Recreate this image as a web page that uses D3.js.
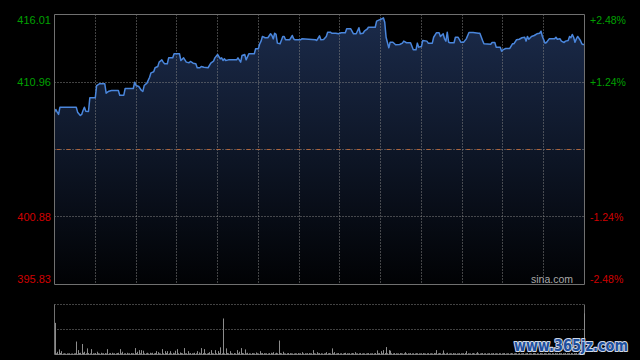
<!DOCTYPE html>
<html><head><meta charset="utf-8">
<script src="https://cdn.jsdelivr.net/npm/d3@7"></script>
<style>html,body{margin:0;padding:0;background:#000;}svg{display:block;}</style>
</head><body>
<svg id="c" width="640" height="360"></svg>
<script>
// ---- data ----
const priceMinutes = [
  0,1,2,3,4,16,17,19,20,21,22,23,25,26,30,31,33,37,38,40,
  42,47,48,51,52,58,59,60,62,64,65,66,68,70,71,73,74,76,77,79,
  80,81,83,84,87,88,92,93,95,97,99,100,102,104,105,107,108,110,113,115,
  117,118,120,122,123,124,125,126,128,134,135,137,138,140,141,143,147,148,150,151,
  152,153,155,157,159,160,161,162,163,164,166,168,169,170,173,175,176,177,181,182,
  187,192,193,195,196,198,200,201,203,204,207,209,211,214,215,218,220,222,224,225,
  227,228,230,231,234,236,237,239,241,242,243,244,246,247,249,251,254,256,257,259,
  262,264,266,267,268,270,271,274,275,278,279,281,283,284,286,287,288,289,290,291,
  294,295,297,299,301,303,305,308,312,313,315,316,321,322,324,325,328,329,330,332,
  335,337,338,340,342,344,346,347,348,349,351,353,355,357,358,359,361,362,364,368,
  369,370,372,373,375,376,378,379,380,381,382,383,384,385,387,388,389,390
];
const priceValues = [
  408.71,408.91,408.71,408.54,409.08,409.08,408.71,408.46,408.54,408.84,409.08,408.78,408.76,409.78,409.78,410.70,410.83,410.83,410.13,410.28,
  410.33,410.33,409.98,409.98,410.48,410.48,410.95,410.70,410.63,410.33,410.26,410.70,410.88,411.32,411.65,411.73,412.03,412.12,412.45,412.62,
  412.45,412.33,412.33,412.77,412.77,413.07,413.07,412.57,412.77,412.45,412.40,412.50,412.37,412.33,412.03,412.03,412.12,412.07,412.03,412.37,
  412.52,412.77,413.02,412.70,412.77,412.57,412.70,412.57,412.62,412.62,412.77,412.45,412.95,413.02,412.62,413.07,413.07,413.45,413.45,413.82,
  414.02,414.37,414.27,414.27,414.57,414.44,414.19,414.61,414.52,413.87,413.82,414.37,414.37,414.12,414.12,414.44,414.19,414.12,414.12,414.19,
  414.16,414.12,414.07,414.42,414.12,414.14,414.37,414.69,414.69,414.61,414.61,414.57,414.64,414.64,414.94,414.94,414.57,414.57,415.02,414.57,
  414.61,414.76,414.91,415.06,415.06,415.06,415.51,415.61,415.69,415.76,415.43,414.31,413.52,413.94,413.94,413.75,413.77,413.87,414.02,413.90,
  413.90,413.37,413.37,413.87,413.57,413.62,414.07,414.02,413.87,413.87,414.31,414.64,414.64,414.37,414.57,414.19,414.02,414.69,413.94,413.90,
  413.90,414.31,414.31,413.94,413.94,414.19,414.67,414.67,414.61,414.61,414.07,413.82,413.79,413.92,413.92,413.57,413.57,413.27,413.37,413.47,
  413.47,413.82,413.82,414.12,414.16,414.27,414.31,414.02,414.37,414.16,414.37,414.44,414.57,414.61,414.76,414.37,413.87,413.92,414.19,414.19,
  414.31,414.16,414.19,414.02,413.92,414.02,414.07,414.37,414.27,414.52,414.31,413.94,414.19,414.37,414.07,413.82,413.77,413.77
];
// per-minute volume (arbitrary units), minute 0..390
const volumes = [
  310,12,27,50,15,33,10,12,9,11,
  10,12,9,10,11,12,127,43,14,17,
  103,17,27,12,60,14,11,53,12,10,
  14,27,12,10,17,11,12,14,10,53,
  12,14,17,10,12,11,14,17,53,12,
  27,11,12,17,10,12,14,11,12,63,
  14,27,43,12,43,37,11,12,17,10,
  17,12,17,11,14,33,23,12,10,53,
  12,33,14,33,12,33,11,17,12,37,
  53,12,20,14,12,63,11,12,33,10,
  14,12,11,17,12,33,20,11,63,14,
  53,12,10,14,23,43,12,11,43,12,
  33,14,70,12,353,11,60,14,12,33,
  12,10,14,11,43,12,27,63,14,12,
  50,11,17,12,10,14,12,11,20,12,
  10,33,12,14,13,11,12,10,14,17,
  12,23,11,17,12,137,14,12,27,11,
  10,12,14,13,11,10,10,12,11,14,
  10,12,23,11,12,10,13,14,11,12,
  43,12,10,23,11,14,12,10,11,12,
  23,12,14,11,60,12,23,10,12,14,
  11,12,10,14,17,12,10,13,11,14,
  12,23,10,11,12,14,10,12,11,10,
  12,14,11,10,12,11,14,40,12,14,
  33,12,43,14,73,12,43,37,12,11,
  14,12,10,11,14,12,10,12,23,11,
  12,10,14,11,12,10,13,12,11,10,
  12,14,11,10,12,13,11,12,10,14,
  12,43,11,14,12,10,40,12,11,17,
  10,12,11,14,10,12,11,10,13,12,
  11,12,14,33,12,10,11,12,14,10,
  12,23,11,10,12,14,11,12,10,11,
  13,12,10,14,11,12,10,13,12,11,
  12,14,10,11,12,10,14,12,11,13,
  12,10,14,11,12,13,10,12,14,11,
  12,10,13,14,11,12,10,14,12,11,
  13,12,10,14,12,11,13,12,14,10,
  12,14,11,13,12,10,14,12,11,13,
  14,12,13,11,14,12,15,13,14,16,
  403
];
const prevClose = 405.92;
const priceTicks = [395.83, 400.88, 410.96, 416.01];
const priceTickLabels = ["395.83", "400.88", "410.96", "416.01"];
const pctTickLabels = ["-2.48%", "-1.24%", "+1.24%", "+2.48%"];
const gridMinutes = [30,60,90,120,150,180,210,240,270,300,330,360];
const sourceLabel = "sina.com";
const watermarkText = "www.365jz.com";

// ---- layout ----
const L = 54.5, R = 584.5, T = 14.5, B = 284.5;
const VT = 304.5, VB = 354.5;
const FONT = "'Liberation Sans', Arial, sans-serif";

const svg = d3.select("#c");
svg.append("rect").attr("width", 640).attr("height", 360).attr("fill", "#000");

const x = d3.scaleLinear().domain([0, 390]).range([L, R]);
const xv = d3.scaleLinear().domain([0, 390]).range([55, 584.9]);
const y = d3.scaleLinear().domain([395.83, 416.01]).range([B, T]);
const yv = d3.scaleLinear().domain([0, 490]).range([VB, VT]);

const pts = priceMinutes.map((m, i) => ({m, p: priceValues[i]}));

// gradient
const defs = svg.append("defs");
const grad = defs.append("linearGradient").attr("id", "fillg")
  .attr("gradientUnits", "userSpaceOnUse").attr("x1", 0).attr("x2", 0).attr("y1", T).attr("y2", B);
grad.append("stop").attr("offset", 0).attr("stop-color", "#1b2b4b");
grad.append("stop").attr("offset", 1).attr("stop-color", "#010204");

// area
svg.append("path").datum(pts)
  .attr("d", d3.area().x(d => x(d.m)).y0(B).y1(d => y(d.p)))
  .attr("fill", "url(#fillg)");

const px = v => Math.round(v - 0.5) + 0.5;

// grid
const grid = svg.append("g").attr("stroke", "#858585").attr("stroke-width", 1).attr("stroke-dasharray", "1,2").attr("fill", "none");
grid.selectAll("line.v").data(gridMinutes).join("line").attr("class", "v")
  .attr("x1", d => px(x(d))).attr("x2", d => px(x(d))).attr("y1", T).attr("y2", B);
grid.selectAll("line.h").data([400.88, 410.96]).join("line").attr("class", "h")
  .attr("x1", L).attr("x2", R).attr("y1", d => px(y(d))).attr("y2", d => px(y(d)));
// prev close line
svg.append("line").attr("x1", L).attr("x2", R).attr("y1", px(y(prevClose))).attr("y2", px(y(prevClose)))
  .attr("stroke", "#858585").attr("stroke-dasharray", "1,2");
svg.append("line").attr("x1", L + 2).attr("x2", R).attr("y1", px(y(prevClose))).attr("y2", px(y(prevClose)))
  .attr("stroke", "#b0643a").attr("stroke-dasharray", "4,6");

// price line
svg.append("path").datum(pts)
  .attr("d", d3.line().x(d => x(d.m)).y(d => y(d.p)))
  .attr("fill", "none").attr("stroke", "#4a86dc").attr("stroke-width", 1.5).attr("stroke-linejoin", "round");

// border main
svg.append("path").attr("d", `M${L},${T}H${R}V${B}H${L}Z`).attr("fill", "none").attr("stroke", "#707070");

// labels left / right
const lab = svg.append("g").attr("font-family", FONT).attr("font-size", 11);
const labelY = (v, i) => {
  if (i === priceTicks.length - 1) return T + 9.5;
  if (i === 0) return B - 2;
  return y(v) + 4;
};
lab.selectAll("text.l").data(priceTicks).join("text").attr("class", "l")
  .attr("x", 51).attr("y", (d, i) => labelY(d, i)).attr("text-anchor", "end")
  .attr("fill", d => d > prevClose ? "#00a000" : "#d00000")
  .text((d, i) => priceTickLabels[i]);
lab.selectAll("text.r").data(priceTicks).join("text").attr("class", "r")
  .attr("x", 590).attr("y", (d, i) => labelY(d, i)).attr("text-anchor", "start")
  .attr("fill", d => d > prevClose ? "#00a000" : "#d00000")
  .attr("font-size", 10.5)
  .text((d, i) => pctTickLabels[i]);

svg.append("text").attr("x", 573).attr("y", 283).attr("text-anchor", "end")
  .attr("font-family", FONT).attr("font-size", 10.5).attr("fill", "#a8a8a8").text(sourceLabel);

// volume panel
const vg = svg.append("g");
vg.append("line").attr("x1", L).attr("x2", R).attr("y1", VT).attr("y2", VT)
  .attr("stroke", "#858585").attr("stroke-dasharray", "1,2");
vg.append("line").attr("x1", L).attr("x2", R).attr("y1", px((VT + VB) / 2)).attr("y2", px((VT + VB) / 2))
  .attr("stroke", "#858585").attr("stroke-dasharray", "1,2");
vg.append("path").attr("d", `M${L},${VT}V${VB}H${R}V${VT}`).attr("fill", "none").attr("stroke", "#707070");
vg.selectAll("rect.vb").data(volumes).join("rect").attr("class", "vb")
  .attr("x", (d, i) => Math.floor(xv(i))).attr("width", 1)
  .attr("y", d => yv(d)).attr("height", d => VB - yv(d))
  .attr("fill", "#8c8c8c");

// watermark
svg.append("text").attr("x", 514).attr("y", 351)
  .attr("font-family", "'DejaVu Sans', sans-serif").attr("font-weight", "bold").attr("font-size", 15)
  .attr("textLength", 114).attr("lengthAdjust", "spacingAndGlyphs")
  .attr("fill", "#1d4f9e").attr("stroke", "#cfd8e6").attr("stroke-width", 2.2)
  .attr("paint-order", "stroke").attr("stroke-linejoin", "round")
  .text(watermarkText);
</script>
</body></html>
